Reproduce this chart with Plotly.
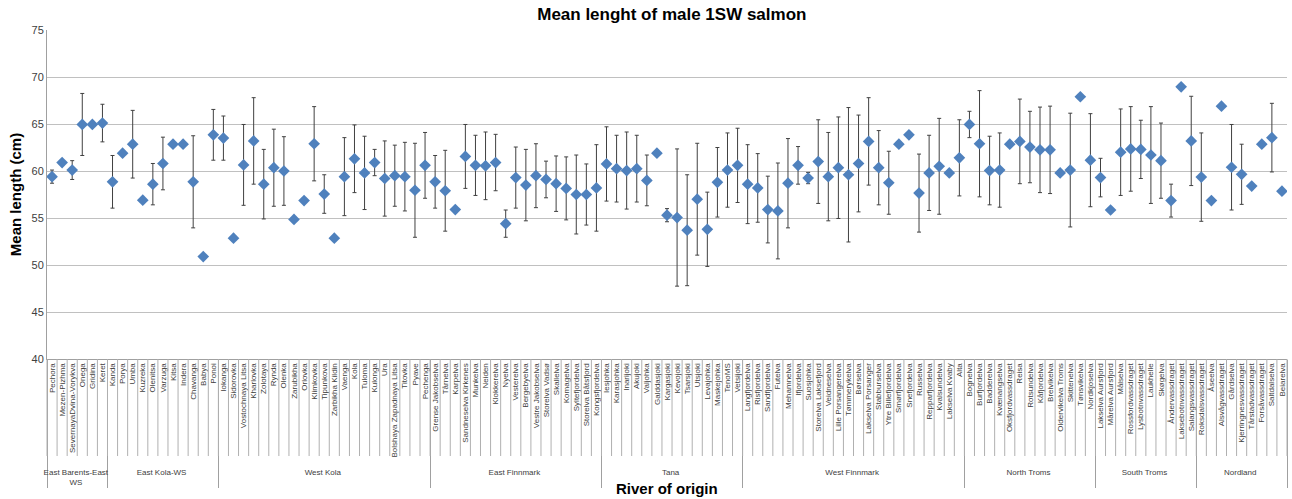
import plotly.graph_objects as go

# regions (outer axis level) and how many rivers each holds
regions = ["East Barents-East<br>WS", "East Kola-WS", "West Kola", "East Finnmark", "Tana",
           "West Finnmark", "North Troms", "South Troms", "Nordland"]
region_sizes = [6, 11, 21, 17, 14, 22, 13, 10, 9]

rivers = [
    "Pechora", "Mezen-Pizhma", "SevernayaDvina-Vorykva", "Onega", "Gridina", "Keret",
    "Kanda", "Porya", "Umba", "Kuzreka", "Olenitsa", "Varzuga", "Kitsa", "Indera", "Chavanga", "Babya", "Ponoi",
    "Iokanga", "Sidorovka", "Vostochnaya Litsa", "Kharlovka", "Zolotaya", "Rynda", "Olenka", "Zarubikha",
    "Orlovka", "Klimkovka", "Tipunkova", "Zarbikha Kildin", "Vaenga", "Kola", "Tuloma", "Kulonga", "Ura",
    "Bolshaya Zapadnaya Litsa", "Titovka", "Pyave", "Pechenga",
    "Grense Jakobselva", "Tårnelva", "Karpelva", "Sandneselva Kirkenes", "Munkelva", "Neiden", "Klokkerelva",
    "Nyelva", "Vesterelva", "Bergebyelva", "Vestre Jakobselva", "Storelva Vadsø", "Skallelva", "Komagelva",
    "Syltefjordelva", "Storelva Båtsfjord", "Kongsfjordelva",
    "Iesjohka", "Karasjohka", "Inarijoki", "Akujoki", "Valjohka", "Galddasjoki", "Kargasjoki", "Kevojoki",
    "Tsarsjoki", "Utsjoki", "Levajohka", "Maskejohka", "TenoMS", "Vetsijoki",
    "Langfjordelva", "Risfjordelva", "Sandfjordelva", "Futelva", "Mehamnelva", "Ifjordelva", "Suosjohka",
    "Storelva Laksefjord", "Veidneselva", "Lille Porsangerelva", "Tømmerykelva", "Børselva",
    "Lakselva Porsanger", "Stabburselva", "Ytre Billefjordelva", "Smørfjordelva", "Snefjordelva", "Russelva",
    "Repparfjordelva", "Kvalsundelva", "Lakselva Kvaby", "Alta",
    "Bognelva", "Burfjordelva", "Badderelva", "Kvænangselva", "Oksfjordvassdraget", "Reisa", "Rotsundelva",
    "Kåfjordelva", "Breivikelva", "Oldervikelva Troms", "Skittenelva", "Tønsvikelva", "Nordkjoselva",
    "Lakselva Aursfjord", "Mårelva Aursfjord", "Målselva", "Rossfordvassdraget", "Lysbotnvassdraget",
    "Laukhelle", "Skøgelva", "Åndervassdraget", "Laksebotnvassdraget", "Salangsvassdraget",
    "Roksdalsvassdraget", "Åseelva", "Alsvågvassdraget", "Gårdselva", "Kjerringnesvassdraget",
    "Tårstadvassdraget", "Forsåvassdraget", "Saltdalselva", "Beiarelva",
]

mean_length = [
    59.4, 60.9, 60.1, 64.95, 64.95, 65.1,
    58.85, 61.9, 62.85, 56.9, 58.6, 60.8, 62.85, 62.85, 58.85, 50.9, 63.85,
    63.5, 52.85, 60.65, 63.2, 58.6, 60.35, 60.0, 54.85, 56.85, 62.9, 57.55, 52.85, 59.4, 61.3, 59.8,
    60.9, 59.2, 59.5, 59.4, 57.95, 60.6,
    58.85, 57.9, 55.9, 61.55, 60.6, 60.55, 60.9, 54.4, 59.3, 58.5, 59.5, 59.1, 58.65, 58.15,
    57.5, 57.5, 58.2,
    60.75, 60.25, 60.05, 60.25, 59.0, 61.9, 55.3, 55.05, 53.7, 57.0, 53.8, 58.8, 60.1, 60.6,
    58.6, 58.2, 55.9, 55.75, 58.7, 60.6, 59.25, 61.0, 59.4, 60.35, 59.6, 60.8, 63.15, 60.35, 58.75,
    62.85, 63.85, 57.65, 59.8, 60.5, 59.8, 61.4,
    64.95, 62.9, 60.05, 60.1, 62.85, 63.15, 62.55, 62.25, 62.25, 59.8, 60.1, 67.9, 61.15,
    59.3, 55.85, 62.0, 62.35, 62.3, 61.7, 61.1, 56.85, 68.95, 63.2,
    59.35, 56.85, 66.9, 60.4, 59.65, 58.4, 62.85, 63.55, 57.85,
]

# half-width of error bars (None = no bar)
error = [
    0.7, None, 1.0, 3.3, None, 2.0,
    2.8, None, 3.6, None, 2.2, 2.8, None, None, 4.9, None, 2.7,
    2.35, None, 4.3, 4.6, 3.7, 4.1, 3.65, None, None, 3.95, 2.05, None, 4.15, 3.6, 3.9,
    1.4, 4.0, 3.25, 3.65, 5.0, 3.5,
    2.8, 4.3, None, 3.4, 3.2, 3.6, 3.0, 1.45, 3.25, 3.8, 3.4, 1.95, 2.95, 3.35,
    4.2, 3.25, 4.6,
    3.95, 3.55, 4.1, 3.55, 2.7, None, 0.7, 7.3, 5.9, 5.95, 3.95, 3.7, 3.95, 3.95,
    4.2, 3.65, 3.55, 5.1, 4.75, 2.0, 0.6, 4.45, 4.7, 5.4, 7.15, 5.15, 4.65, 3.95, 3.35,
    None, None, 4.15, 4.0, 5.1, None, 4.05,
    1.4, 5.65, 3.65, 3.95, None, 4.5, 3.8, 4.55, 4.65, None, 6.05, None, 4.95,
    2.05, None, 4.6, 4.5, 3.1, 5.15, 4.0, 1.75, None, 4.75,
    4.7, None, None, 4.55, 3.2, None, None, 3.65, None,
]

region_col = []
for r, n in zip(regions, region_sizes):
    region_col += [r] * n
n_cat = len(rivers)

fig = go.Figure()
fig.add_trace(go.Scatter(
    x=[region_col, rivers],
    y=mean_length,
    mode="markers",
    marker=dict(symbol="diamond", size=9, color="#4F81BD"),
    error_y=dict(type="data", array=error, visible=True, color="#404040", thickness=1, width=2),
    showlegend=False,
))

# thin separators between the category labels (like the Excel axis table)
plot_h = 499 - 30 - 140
sep_len = 97 / plot_h
for i in range(n_cat + 1):
    fig.add_shape(type="line", xref="paper", yref="paper",
                  x0=i / n_cat, x1=i / n_cat, y0=0, y1=-sep_len,
                  line=dict(color="#b0b0b0", width=1))

fig.add_annotation(text="<b>River of origin</b>", xref="paper", yref="paper",
                   x=0.5, y=-(488 - 359) / plot_h, yanchor="middle", showarrow=False,
                   font=dict(size=15, color="black"))

fig.update_layout(
    width=1292, height=499,
    paper_bgcolor="white", plot_bgcolor="white",
    font=dict(family="Liberation Sans", color="#404040"),
    title=dict(text="<b>Mean lenght of male 1SW salmon</b>", x=0.52, y=0.984, yanchor="top",
               xanchor="center", font=dict(size=17, color="black")),
    margin=dict(l=47, r=5, t=30, b=140),
    xaxis=dict(
        type="multicategory",
        range=[-0.5, n_cat - 0.5],
        tickmode="linear", tick0=0, dtick=1,
        tickangle=-90,
        tickfont=dict(size=8, family="Liberation Sans", color="#404040"),
        showline=True, linecolor="#a0a0a0",
        ticks="",
        showdividers=True, dividercolor="#a0a0a0", dividerwidth=1,
        showgrid=False,
    ),
    yaxis=dict(
        range=[40, 75], dtick=5,
        showgrid=True, gridcolor="#c0c0c0",
        showline=True, linecolor="#a0a0a0",
        ticks="", tickfont=dict(size=11, color="#404040"),
        title=dict(text="<b>Mean length (cm)</b>", font=dict(size=15, color="black"), standoff=6),
        zeroline=False, automargin=False,
    ),
)

fig.write_html("out.html", config={"displayModeBar": False},
               post_script="document.body.style.margin='0';")
